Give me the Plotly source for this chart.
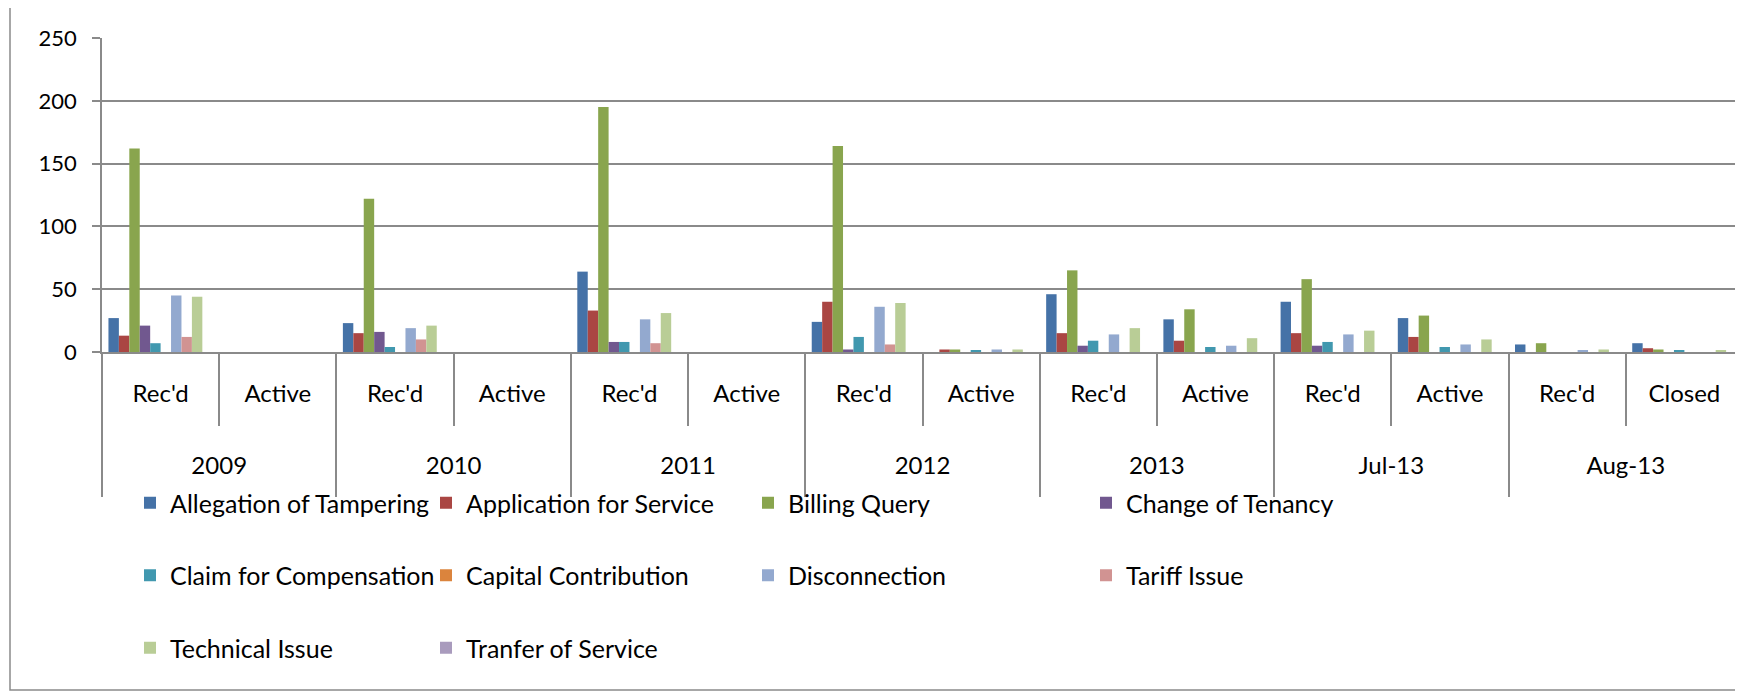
import plotly.graph_objects as go

# ---------------- data ----------------
group_names = ["2009", "2010", "2011", "2012", "2013", "Jul-13", "Aug-13"]
statuses = ["Rec'd", "Active", "Rec'd", "Active", "Rec'd", "Active", "Rec'd", "Active",
            "Rec'd", "Active", "Rec'd", "Active", "Rec'd", "Closed"]
cats_per_group = 2

series_names = ["Allegation of Tampering", "Application for Service", "Billing Query",
                "Change of Tenancy", "Claim for Compensation", "Capital Contribution",
                "Disconnection", "Tariff Issue", "Technical Issue", "Tranfer of Service"]

tampering     = [27, 0, 23, 0, 64, 0, 24, 0, 46, 26, 40, 27, 6, 7]
application   = [13, 0, 15, 0, 33, 0, 40, 2, 15, 9, 15, 12, 0, 3]
billing       = [162, 0, 122, 0, 195, 0, 164, 2, 65, 34, 58, 29, 7, 2]
tenancy       = [21, 0, 16, 0, 8, 0, 2, 0, 5, 0, 5, 0, 0, 0]
compensation  = [7, 0, 4, 0, 8, 0, 12, 1, 9, 4, 8, 4, 0, 1]
capital       = [0, 0, 0, 0, 0, 0, 0, 0, 0, 0, 0, 0, 0, 0]
disconnection = [45, 0, 19, 0, 26, 0, 36, 2, 14, 5, 14, 6, 1, 0]
tariff        = [12, 0, 10, 0, 7, 0, 6, 0, 0, 0, 0, 0, 0, 0]
technical     = [44, 0, 21, 0, 31, 0, 39, 2, 19, 11, 17, 10, 2, 1]
transfer      = [0, 0, 0, 0, 0, 0, 0, 0, 0, 0, 0, 0, 0, 0]

series_values = [tampering, application, billing, tenancy, compensation, capital,
                 disconnection, tariff, technical, transfer]

y_ticks = [0, 50, 100, 150, 200, 250]

# ---------------- style ----------------
colors = ["#4572A7", "#AA4643", "#89A54E", "#71588F", "#4198AF", "#DB843D",
          "#93A9CF", "#D19392", "#B9CD96", "#A99BBD"]
GRAY = "#8a8a8a"
FONT = "Lato"
PAGE_OFF = 8                      # default body margin of the html page
W, H = 1743 - PAGE_OFF, 693 - PAGE_OFF
ML, MT = 102 - PAGE_OFF, 38 - PAGE_OFF
MR = 0
MB = H - (352 - PAGE_OFF)
PW, PH = W - ML - MR, H - MT - MB

def px_x(page_px):
    return (page_px - PAGE_OFF - ML) / PW

def px_y(page_py):
    return (H - MB - (page_py - PAGE_OFF)) / PH

x_idx = list(range(len(statuses)))
n_groups = len(group_names)
group_centers = [g * cats_per_group + (cats_per_group - 1) / 2 for g in range(n_groups)]
inner_bounds = [i - 0.5 for i in range(len(statuses) + 1)]
outer_bounds = [g * cats_per_group - 0.5 for g in range(n_groups + 1)]

fig = go.Figure()
legend_ids = ["legend", "legend2", "legend3", "legend4"]
for i, (name, vals) in enumerate(zip(series_names, series_values)):
    fig.add_trace(go.Bar(
        x=x_idx, y=vals, name=name,
        marker=dict(color=colors[i], line=dict(width=0)),
        legend=legend_ids[i % 4], legendgroup=name,
    ))

# carrier (no visible marks) so that the outer category axis is drawn
fig.add_trace(go.Scatter(x=group_centers, y=[None] * n_groups, xaxis="x2", yaxis="y",
                         mode="markers", showlegend=False, hoverinfo="skip"))

legend_common = dict(
    orientation="v", xanchor="left", yanchor="top",
    font=dict(family=FONT, size=25, color="black"),
    traceorder="grouped", tracegroupgap=37,
    bgcolor="rgba(0,0,0,0)", borderwidth=0,
)
col_px = [130, 426, 748, 1086]
legend_layout = {}
for k, lid in enumerate(legend_ids):
    legend_layout[lid] = dict(legend_common, x=px_x(col_px[k]), y=px_y(480))

fig.update_layout(
    template="none",
    width=W, height=H, autosize=False,
    margin=dict(l=ML, r=MR, t=MT, b=MB, pad=0, autoexpand=False),
    paper_bgcolor="white", plot_bgcolor="white",
    barmode="group", bargap=0.11, bargroupgap=0,
    font=dict(family=FONT, size=24, color="black"),
    showlegend=True,
    xaxis=dict(
        type="linear", range=[-0.5, len(statuses) - 0.5], fixedrange=True,
        automargin=False,
        tickmode="array", tickvals=x_idx, ticktext=statuses, ticks="",
        showgrid=False, zeroline=False,
        showline=True, linecolor=GRAY, linewidth=1.5,
        tickfont=dict(family=FONT, size=24, color="black"),
        ticklabelstandoff=19,
        minor=dict(tickmode="array", tickvals=inner_bounds, ticks="outside",
                   ticklen=72, tickwidth=1.5, tickcolor=GRAY, showgrid=False),
    ),
    xaxis2=dict(
        type="linear", range=[-0.5, len(statuses) - 0.5], fixedrange=True,
        automargin=False,
        overlaying="x", anchor="y", side="bottom",
        tickmode="array", tickvals=group_centers, ticktext=group_names, ticks="",
        showgrid=False, zeroline=False, showline=False,
        tickfont=dict(family=FONT, size=24, color="black"),
        ticklabelstandoff=97,
        minor=dict(tickmode="array", tickvals=outer_bounds, ticks="outside",
                   ticklen=144, tickwidth=1.5, tickcolor=GRAY, showgrid=False),
    ),
    yaxis=dict(
        range=[0, 250], fixedrange=True, automargin=False,
        tickmode="array", tickvals=y_ticks,
        showgrid=True, gridcolor=GRAY, gridwidth=1.5,
        zeroline=False, showline=True, linecolor=GRAY, linewidth=1.5,
        ticks="outside", ticklen=8, tickwidth=1.5, tickcolor=GRAY,
        tickfont=dict(family=FONT, size=22, color="black"),
        ticklabelstandoff=11,
    ),
    shapes=[dict(type="rect", xref="paper", yref="paper",
                 x0=px_x(10), x1=px_x(1743 + 20), y0=px_y(690), y1=px_y(-20),
                 line=dict(color=GRAY, width=1.5), fillcolor="rgba(0,0,0,0)",
                 layer="below")],
    **legend_layout,
)

fig.write_html("out.html")
